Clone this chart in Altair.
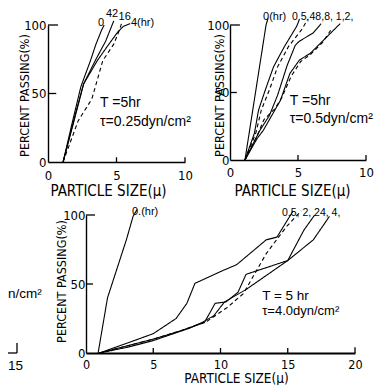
import altair as alt
import pandas as pd

FONT = "Liberation Sans"
NARROW = "Liberation Sans Narrow, DejaVu Sans Condensed, Liberation Sans"
H = 377
W = 370

# ---------------- panel 1 : tau = 0.25 dyn/cm2 ----------------
p1_names = ["0", "42", "16", "4"]
p1_dash = ["solid", "solid", "dashed", "solid"]
p1_x = [
    [1.1, 1.8, 2.4, 3.1, 3.5, 3.9, 4.1],
    [1.1, 1.9, 2.6, 3.5, 4.2, 4.6, 4.8],
    [1.1, 2.2, 3.2, 4.0, 4.8, 5.2, 5.4],
    [1.1, 2.0, 2.6, 3.6, 4.3, 5.1, 5.5, 6.0],
]
p1_y = [
    [0, 30, 55, 74, 86, 96, 100],
    [0, 30, 57, 75, 88, 98, 103],
    [0, 30, 46, 74, 86, 96, 102],
    [0, 35, 57, 74, 84, 95, 99, 101],
]
p1_text = ["0", "42", "16", "4(hr)", "T =5hr", "τ=0.25dyn/cm²"]
p1_tx = [3.65, 4.23, 5.15, 6.05, 3.8, 3.8]
p1_ty = [101.5, 107.8, 105.5, 101.5, 43, 29]
p1_ts = [11, 11, 11, 11, 14, 14]

# ---------------- panel 2 : tau = 0.5 dyn/cm2 ----------------
p2_names = ["0", "0.5", "48", "8", "1", "2"]
p2_dash = ["solid", "solid", "dashed", "solid", "dashed", "solid"]
p2_x = [
    [1.1, 2.65, 2.8],
    [1.1, 1.8, 2.1, 2.6, 3.2, 4.0, 4.9, 5.1],
    [1.1, 1.9, 2.3, 2.9, 3.5, 4.3, 5.3, 5.7],
    [1.1, 2.2, 2.9, 3.5, 4.2, 4.8, 5.1, 6.1, 6.7],
    [1.1, 2.0, 2.5, 3.3, 3.8, 4.5, 5.2, 5.9, 6.8, 7.4],
    [1.1, 2.0, 2.45, 3.3, 3.7, 4.4, 5.1, 5.9, 6.8, 8.1],
]
p2_y = [
    [0, 100, 105],
    [0, 20, 37, 52, 69, 84, 99, 104],
    [0, 20, 37, 52, 69, 84, 97, 104],
    [0, 22, 33, 48, 70, 85, 88, 94, 101],
    [0, 18, 30, 38, 46, 62, 73, 78, 87, 96],
    [0, 16, 22, 37, 44, 64, 74, 79, 88, 101],
]
p2_text = ["0(hr)", "0.5,48,8, 1,2,", "T =5hr", "τ=0.5dyn/cm²"]
p2_tx = [2.43, 4.56, 4.4, 4.4]
p2_ty = [106, 106, 43.7, 30.4]
p2_ts = [11, 10.5, 14, 14]

# ---------------- panel 3 : tau = 4.0 dyn/cm2 ----------------
p3_names = ["0", "0.5", "2", "24", "4"]
p3_dash = ["solid", "solid", "dashed", "solid", "solid"]
p3_x = [
    [0.9, 1.6, 2.5, 3.0, 3.5, 3.8],
    [1.0, 3.3, 5.0, 6.7, 7.5, 8.1, 10.0, 11.2, 13.4, 14.2, 15.4],
    [1.0, 3.0, 5.0, 7.0, 9.0, 10.5, 11.7, 12.4, 13.4, 14.9, 16.0],
    [1.0, 3.0, 5.0, 7.0, 8.8, 9.6, 10.4, 11.3, 11.9, 15.0, 16.2, 17.0],
    [1.0, 3.0, 5.0, 7.7, 8.6, 9.5, 10.3, 11.9, 15.0, 16.9, 18.1],
]
p3_y = [
    [0, 40, 67, 82, 99, 104],
    [0, 8, 14, 25, 36, 50.5, 59, 64, 82, 84, 103],
    [0, 5, 10, 16, 23, 33, 43, 55, 72, 91.5, 103],
    [0, 5, 10, 16, 22, 36, 37, 44, 57, 67, 89, 100],
    [0, 4, 9, 18, 22, 27, 37, 46, 67, 82, 99],
]
p3_text = ["0.(hr)", "0.5, 2, 24, 4,", "T = 5 hr", "τ=4.0dyn/cm²", "n/cm²", "15"]
p3_tx = [3.42, 14.57, 13.1, 13.1, -5.8, -5.8]
p3_ty = [102, 101.5, 41.3, 30.4, 42.8, -9.6]
p3_ts = [11, 10.5, 13.5, 13, 13.5, 13.5]

# axis tick marks (drawn inward) : x, x2, y, y2
p1_ticks = [[5, 5, 0, 3.5], [10, 10, 0, 3.5], [0, 0.6, 50, 50], [0, 0.73, 100, 100]]
p2_ticks = [[5, 5, 0, 3.7], [10, 10, 0, 3.7], [0, 0.5, 50, 50], [0, 0.73, 100, 100]]
p3_ticks = [[5, 5, 0, 3.6], [10, 10, 0, 3.6], [15, 15, 0, 3.6], [20, 20, 0, 4.2],
            [0, 0.52, 50, 50], [0, 0.67, 100, 100],
            [-5.8, -5.13, 0, 0], [-5.13, -5.13, 0, 7.2]]


def lines_df(names, dashes, xs, ys):
    rows = []
    for n, d, xv, yv in zip(names, dashes, xs, ys):
        for i, (a, b) in enumerate(zip(xv, yv)):
            rows.append({"series": n, "dash": d, "i": i, "x": a, "y": b})
    return pd.DataFrame(rows)


def panel(ldf, texts, tx, ty, ts, ticks, xdom, xr, yr, xvals,
          xtitle_x, xtitle_y, ytitle_x, ytitle_y, ylabpad, xlabpad,
          xtitle_size=15, xlab_size=13, dom_w=1.4):
    xs = alt.Scale(domain=xdom, range=xr, nice=False, zero=False)
    ys = alt.Scale(domain=[0, 100], range=yr, nice=False, zero=False)
    xaxis = alt.Axis(
        orient="bottom", offset=yr[0] - H, values=xvals, ticks=False, grid=False,
        domainColor="black", domainWidth=dom_w, labelFont=NARROW, labelFontSize=xlab_size,
        labelColor="black", labelPadding=xlabpad, labelFlush=False, labelOverlap=False,
        labelBound=False, labelAngle=0,
        title="PARTICLE   SIZE(μ)", titleFont=NARROW, titleFontSize=xtitle_size,
        titleFontWeight="normal", titleColor="black", titleX=xtitle_x, titleY=xtitle_y,
        titleAlign="center", titleBaseline="alphabetic", titleAngle=0)
    yaxis = alt.Axis(
        orient="left", offset=-xr[0], values=[0, 50, 100], ticks=False, grid=False,
        domainColor="black", domainWidth=1.4, labelFont=NARROW, labelFontSize=13,
        labelColor="black", labelPadding=ylabpad, labelFlush=False, labelOverlap=False,
        labelBound=False,
        title="PERCENT PASSING(%)", titleFont=NARROW, titleFontSize=12.5,
        titleFontWeight="normal", titleColor="black", titleX=ytitle_x, titleY=ytitle_y,
        titleAlign="center", titleBaseline="alphabetic", titleAngle=270)
    X = alt.X("x:Q", scale=xs, axis=xaxis)
    Y = alt.Y("y:Q", scale=ys, axis=yaxis)
    lines = alt.Chart(ldf).mark_line(color="black", strokeWidth=1.1).encode(
        x=X, y=Y,
        detail="series:N",
        order="i:Q",
        strokeDash=alt.StrokeDash("dash:N", scale=alt.Scale(domain=["solid", "dashed"],
                                  range=[[1, 0], [4, 3]]), legend=None),
    )
    tdf = pd.DataFrame(ticks, columns=["x", "x2", "y", "y2"])
    rules = alt.Chart(tdf).mark_rule(color="black", strokeWidth=1.3).encode(
        x=X, x2="x2:Q", y=Y, y2="y2:Q")
    txdf = pd.DataFrame({"t": texts, "x": tx, "y": ty, "fs": ts})
    labels = alt.Chart(txdf).mark_text(align="left", baseline="middle", font=FONT,
                                       color="black").encode(
        x=X, y=Y,
        text="t:N",
        size=alt.Size("fs:Q", scale=None, legend=None))
    return alt.layer(lines, rules, labels)


P1 = panel(lines_df(p1_names, p1_dash, p1_x, p1_y), p1_text, p1_tx, p1_ty, p1_ts, p1_ticks,
           [0, 10], [40, 177], [154, 17], [0, 5, 10], 100, 33, -20, 87, 2, 7)
P2 = panel(lines_df(p2_names, p2_dash, p2_x, p2_y), p2_text, p2_tx, p2_ty, p2_ts, p2_ticks,
           [0, 10], [222, 358], [152, 17], [0, 5, 10], 284, 35, -7, 87, 1, 6)
P3 = panel(lines_df(p3_names, p3_dash, p3_x, p3_y), p3_text, p3_tx, p3_ty, p3_ts, p3_ticks,
           [0, 20], [78, 347], [345, 207], [0, 5, 10, 15, 20], 228, 29.5, -21, 273, 1, 5,
           13.5, 12.5, 1.8)

chart = alt.layer(P1, P2, P3).resolve_scale(
    x="independent", y="independent"
).resolve_axis(
    x="independent", y="independent"
).properties(
    width=W, height=H, padding=0, autosize=alt.AutoSizeParams(type="none"),
    background="white"
).configure_view(stroke=None)

chart.save("out.html", embed_options={"renderer": "svg", "actions": False})
